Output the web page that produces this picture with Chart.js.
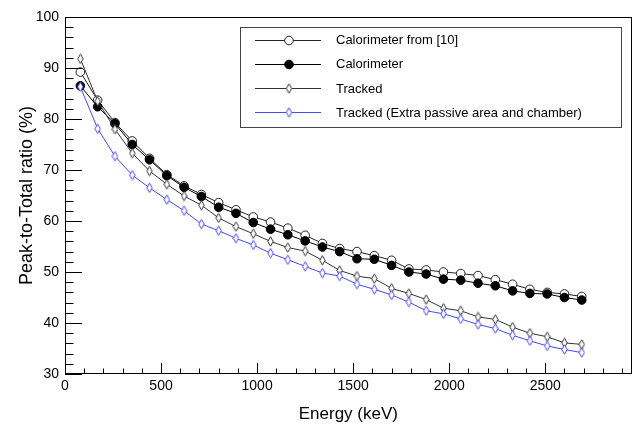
<!DOCTYPE html>
<html><head><meta charset="utf-8">
<script src="https://cdn.jsdelivr.net/npm/chart.js@4/dist/chart.umd.min.js"></script>
<style>html,body{margin:0;padding:0;background:#fff;}#wrap{width:637px;height:425px;}</style>
</head><body><div id="wrap"><canvas id="c" width="637" height="425"></canvas></div>
<script>
const energies = [80,170,260,350,440,530,620,710,800,890,980,1070,1160,1250,1340,1430,1520,1610,1700,1790,1880,1970,2060,2150,2240,2330,2420,2510,2600,2690];
const calorimeterRef = [89.2,83.7,79.3,75.7,72.3,69.1,66.9,65.2,63.6,62.2,60.8,59.8,58.6,57.2,55.6,54.6,54.0,53.2,52.3,50.6,50.4,50.0,49.7,49.3,48.5,47.6,46.6,46.0,45.7,45.2];
const calorimeter = [86.5,82.4,79.1,75.0,72.0,68.9,66.6,64.8,62.7,61.5,59.7,58.4,57.3,56.1,54.9,54.0,52.6,52.5,51.3,50.0,49.6,48.6,48.4,47.8,47.3,46.3,45.8,45.7,45.0,44.5];
const tracked = [91.8,83.5,78.0,73.3,69.8,67.2,64.9,63.1,60.6,58.9,57.5,56.0,54.8,54.1,52.3,50.3,49.2,48.7,46.8,45.8,44.6,42.9,42.4,41.2,40.7,39.2,38.0,37.3,36.1,35.8];
const trackedExtra = [86.3,78.1,72.7,69.0,66.5,64.2,62.0,59.4,58.1,56.6,55.3,53.7,52.4,51.1,49.8,49.2,47.6,46.6,45.5,44.1,42.4,41.8,40.8,39.7,38.9,37.6,36.5,35.5,34.8,34.2];
const seriesLabels = ['Calorimeter from [10]','Calorimeter','Tracked','Tracked (Extra passive area and chamber)'];
const yTickValues = [30,40,50,60,70,80,90,100];
const xTickValues = [0,500,1000,1500,2000,2500];

const FONT = '"Liberation Sans", Arial, Helvetica, sans-serif';
const BLUE = 'rgb(70,70,255)';

function makeDiamond(color){
  const c=document.createElement('canvas'); c.width=7; c.height=11;
  const g=c.getContext('2d');
  g.fillStyle='#fff'; g.strokeStyle=color; g.lineWidth=1;
  g.beginPath(); g.moveTo(3.5,0.8); g.lineTo(6.2,5.5); g.lineTo(3.5,10.2); g.lineTo(0.8,5.5); g.closePath();
  g.fill(); g.stroke();
  return c;
}
const toPts = arr => arr.map((v,i)=>({x:energies[i], y:v}));

const rootAxes = {
  id:'rootAxes',
  afterDatasetsDraw(chart){
    const ctx=chart.ctx, a=chart.chartArea, xs=chart.scales.x, ys=chart.scales.y;
    ctx.save();
    ctx.strokeStyle='#000'; ctx.lineWidth=1;
    ctx.beginPath();
    for(let v=ys.min; v<=ys.max+1e-9; v+=2){
      const y=Math.round(ys.getPixelForValue(v))+0.5;
      const major = Math.abs(v%10)<1e-9;
      const len = major?17:8.5;
      ctx.moveTo(a.left, y); ctx.lineTo(a.left+len, y);
    }
    for(let v=0; v<=xs.max+1e-9; v+=100){
      const x=Math.round(xs.getPixelForValue(v))+0.5;
      const major = Math.abs(v%500)<1e-9;
      const len = major?11:5.5;
      ctx.moveTo(x, a.bottom); ctx.lineTo(x, a.bottom-len);
    }
    ctx.stroke();
    ctx.strokeRect(Math.round(a.left)+0.5, Math.round(a.top)+0.5, Math.round(a.right-a.left)-1, Math.round(a.bottom-a.top)-1);
    ctx.restore();
  }
};

const rootLegend = {
  id:'rootLegend',
  afterDraw(chart){
    const ctx=chart.ctx;
    const bx=240, by=27, bw=381, bh=100;
    ctx.save();
    ctx.fillStyle='#fff'; ctx.fillRect(bx,by,bw,bh);
    ctx.strokeStyle='#444'; ctx.lineWidth=1; ctx.strokeRect(bx+0.5,by+0.5,bw,bh);
    chart.data.datasets.forEach((ds,i)=>{
      const y = by + 12.5 + i*24.3;
      ctx.strokeStyle=ds.borderColor; ctx.lineWidth=1;
      ctx.beginPath(); ctx.moveTo(255, Math.round(y)+0.5); ctx.lineTo(321, Math.round(y)+0.5); ctx.stroke();
      ctx.fillStyle=ds.pointBackgroundColor; ctx.strokeStyle=ds.pointBorderColor;
      Chart.helpers.drawPoint(ctx,{pointStyle:ds.pointStyle, radius:ds.pointRadius, borderWidth:1, rotation:0}, 289, Math.round(y)+0.5);
      ctx.fillStyle='#000'; ctx.font='13px '+FONT; ctx.textBaseline='middle'; ctx.textAlign='left';
      ctx.fillText(ds.label, 336, y+1);
    });
    ctx.restore();
  }
};

new Chart(document.getElementById('c'), {
  type:'line',
  data:{ datasets:[
    {label:seriesLabels[0], data:toPts(calorimeterRef), borderColor:'#222', borderWidth:1, pointStyle:'circle', pointRadius:4.3, pointBackgroundColor:'#fff', pointBorderColor:'#222', pointBorderWidth:1, order:3},
    {label:seriesLabels[1], data:toPts(calorimeter), borderColor:'#000', borderWidth:1, pointStyle:'circle', pointRadius:4.3, pointBackgroundColor:'#000', pointBorderColor:'#000', pointBorderWidth:1, order:2},
    {label:seriesLabels[2], data:toPts(tracked), borderColor:'#333', borderWidth:1, pointStyle:makeDiamond('#333'), pointRadius:4, pointBackgroundColor:'#fff', pointBorderColor:'#333', order:1},
    {label:seriesLabels[3], data:toPts(trackedExtra), borderColor:BLUE, borderWidth:1, pointStyle:makeDiamond(BLUE), pointRadius:4, pointBackgroundColor:'#fff', pointBorderColor:BLUE, order:0}
  ]},
  options:{
    responsive:false, animation:false, devicePixelRatio:1,
    layout:{padding:{top:17,right:3,left:0,bottom:0}},
    elements:{line:{tension:0}},
    plugins:{legend:{display:false}, tooltip:{enabled:false}},
    scales:{
      x:{type:'linear', min:0, max:2950,
        afterFit(s){s.height=51;},
        afterBuildTicks(s){s.ticks=xTickValues.map(v=>({value:v}));},
        grid:{display:false, drawTicks:false}, border:{display:false},
        ticks:{font:{family:FONT,size:14}, color:'#000', padding:4, maxRotation:0, autoSkip:false, callback:v=>String(v)},
        title:{display:true, text:'Energy (keV)', font:{family:FONT,size:17}, color:'#000', padding:{top:5,bottom:0}}
      },
      y:{type:'linear', min:30, max:100,
        afterFit(s){s.width=65;},
        afterBuildTicks(s){s.ticks=yTickValues.map(v=>({value:v}));},
        grid:{display:false, drawTicks:false}, border:{display:false},
        ticks:{font:{family:FONT,size:14}, color:'#000', padding:6, autoSkip:false, callback:v=>String(v)},
        title:{display:true, text:'Peak-to-Total ratio (%)', font:{family:FONT,size:18}, color:'#000', padding:{top:16,bottom:0}}
      }
    }
  },
  plugins:[rootAxes, rootLegend]
});
</script></body></html>
